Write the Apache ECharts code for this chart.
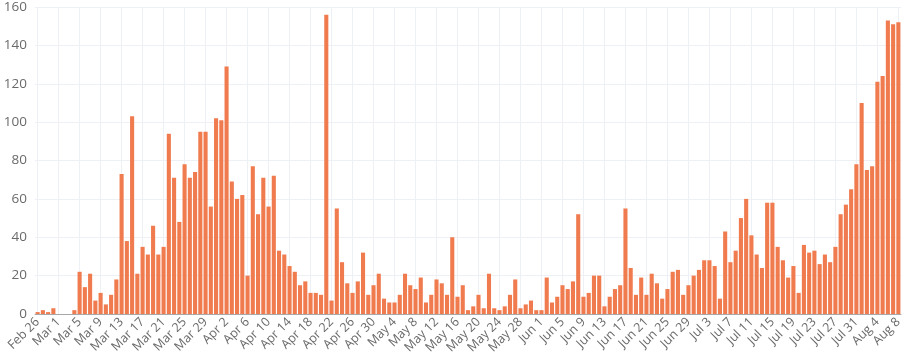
<!DOCTYPE html>
<html><head><meta charset="utf-8">
<script src="https://cdn.jsdelivr.net/npm/echarts@6/dist/echarts.min.js"></script>
<style>html,body{margin:0;padding:0;background:#fff}#c{width:908px;height:360px}</style>
</head><body><div id="c"></div>
<script>
// daily values per month (Feb 26 .. Aug 8)
const feb = [1, 2, 1, 3]; // Feb 26-29
const mar = [0,0,0,2,22,14,21,7,11,5,10,18,73,38,103,21,35,31,46,31,35,94,71,48,78,71,74,95,95,56,102];
const apr = [101,129,69,60,62,20,77,52,71,56,72,33,31,25,22,15,17,11,11,10,156,7,55,27,16,11,17,32,10,15];
const may = [21,8,6,6,10,21,15,13,19,6,10,18,16,10,40,9,15,2,4,10,3,21,3,2,4,10,18,3,5,7,2];
const jun = [2,19,6,9,15,13,17,52,9,11,20,20,4,9,13,15,55,24,10,19,10,21,16,8,13,22,23,10,15,20];
const jul = [23,28,28,25,8,43,27,33,50,60,41,31,24,58,58,35,28,19,25,11,36,32,33,26,31,27,35,52,57,65,78];
const aug = [110,75,77,121,124,153,151,152]; // Aug 1-8

const monthBlocks = [['Feb', 26, feb], ['Mar', 1, mar], ['Apr', 1, apr], ['May', 1, may], ['Jun', 1, jun], ['Jul', 1, jul], ['Aug', 1, aug]];
const categories = [];
const values = [];
monthBlocks.forEach(([m, start, arr]) => {
  arr.forEach((v, i) => { categories.push(m + ' ' + (start + i)); values.push(v); });
});
const yTicks = { min: 0, max: 160, step: 20 };

const chart = echarts.init(document.getElementById('c'));
chart.setOption({
  animation: false,
  grid: { left: 35, right: 7, top: 7, bottom: 46 },
  xAxis: {
    type: 'category', data: categories, boundaryGap: true,
    axisLine: { lineStyle: { color: '#a8a8a8', width: 1 } },
    axisTick: { show: false },
    axisLabel: { interval: 3, rotate: 45, color: '#6a6a6a', fontSize: 12.5, fontFamily: 'Open Sans', margin: 6 },
    splitLine: { show: true, interval: 3, alignWithLabel: true, lineStyle: { color: '#edf0f4', width: 1 } }
  },
  yAxis: {
    type: 'value', min: yTicks.min, max: yTicks.max, interval: yTicks.step,
    axisLine: { show: false }, axisTick: { show: false },
    axisLabel: { color: '#6a6a6a', fontSize: 13.5, fontFamily: 'Open Sans', margin: 8 },
    splitLine: { lineStyle: { color: '#edf0f4', width: 1 } }
  },
  series: [{
    type: 'bar', data: values, barCategoryGap: '22%',
    itemStyle: { color: '#f07b4f' }
  }]
});
</script></body></html>
